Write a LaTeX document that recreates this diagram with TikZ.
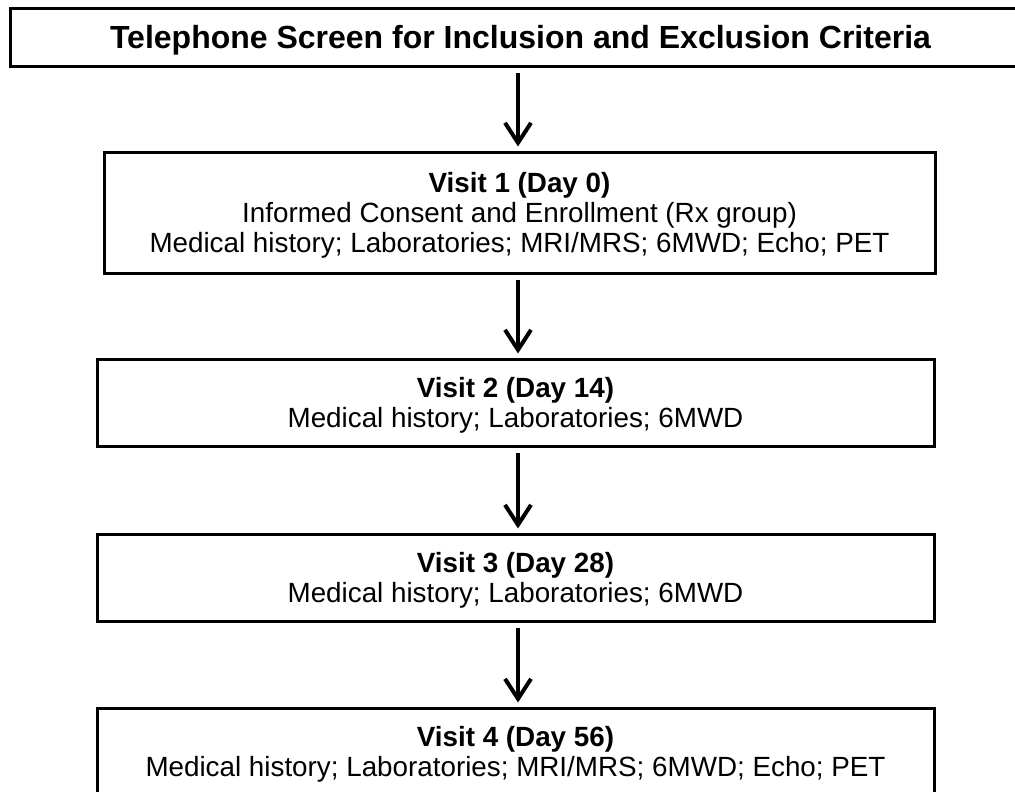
\documentclass[tikz,border=0pt]{standalone}
\usepackage{fontspec}
\setmainfont{Liberation Sans}
\usetikzlibrary{arrows.meta}

\tikzset{
  visit/.style={draw, line width=3pt, minimum width=837pt, minimum height=87pt,
    align=center, inner sep=0pt, text depth=0pt, font=\fontsize{27.8}{30}\selectfont},
  flow/.style={line width=4pt, -{Straight Barb[length=20pt,width=26pt]},
    shorten <=5pt, shorten >=4pt}
}

\begin{document}
\begin{tikzpicture}[x=1pt,y=-1pt]
\useasboundingbox (0,0) rectangle (1015,792);
\node[visit, minimum width=1021pt, minimum height=58pt] (screen) at (520.5,38) {};
\node[font=\fontsize{32}{36}\selectfont\bfseries] (title) at (520.5,40) {Telephone Screen for Inclusion and Exclusion Criteria};
\node[visit, minimum width=831pt, minimum height=121pt] (v1) at (519.5,212.5)
  {\textbf{Visit 1 (Day 0)}\\Informed Consent and Enrollment (Rx group)\\Medical history; Laboratories; MRI/MRS; 6MWD; Echo; PET};
\node[visit] (v2) at (515.5,402.5)
  {\textbf{Visit 2 (Day 14)}\\Medical history; Laboratories; 6MWD};
\node[visit] (v3) at (515.5,577.5)
  {\textbf{Visit 3 (Day 28)}\\Medical history; Laboratories; 6MWD};
\node[visit] (v4) at (515.5,751.5)
  {\textbf{Visit 4 (Day 56)}\\Medical history; Laboratories; MRI/MRS; 6MWD; Echo; PET};
\draw[flow] ([xshift=-1.5pt]v1.north |- screen.south) -- ([xshift=-1.5pt]v1.north);
\draw[flow] ([xshift=2.5pt]v2.north |- v1.south) -- ([xshift=2.5pt]v2.north);
\draw[flow] ([xshift=2.5pt]v2.south) -- ([xshift=2.5pt]v3.north);
\draw[flow] ([xshift=2.5pt]v3.south) -- ([xshift=2.5pt]v4.north);
\end{tikzpicture}
\end{document}
